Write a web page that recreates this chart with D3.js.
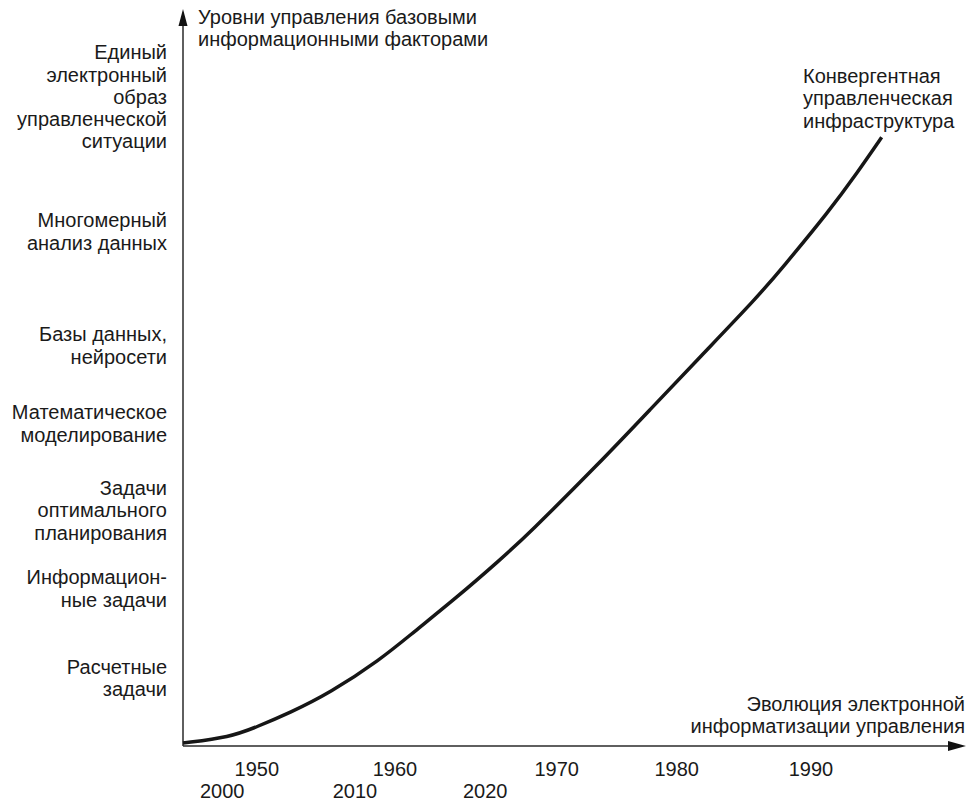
<!DOCTYPE html>
<html>
<head>
<meta charset="utf-8">
<script src="https://cdn.jsdelivr.net/npm/d3@7"></script>
<style>
  body { margin: 0; background: #fff; }
  text { font-family: "Liberation Sans", Arial, sans-serif; fill: #1a1a1a; }
</style>
</head>
<body>
<div id="chart"></div>
<script>
const svgWidth = 980;
const svgHeight = 801;

// curve of evolution (abstract 0..100 units on both axes)
const curveX = [0, 6.0, 9.4, 13.6, 18.7, 25.1, 29.3, 34.9, 40.4, 43.9, 53.1, 59.5, 65.9, 73.1, 76.3, 82.4, 85.9, 89.0];
const curveY = [0.4, 1.2, 2.6, 4.5, 7.2, 11.7, 15.4, 20.2, 25.3, 28.7, 38.5, 45.7, 52.9, 60.9, 64.9, 72.8, 77.9, 82.7];

// year labels along the axis (two rows)
const yearsTop = ["1950", "1960", "1970", "1980", "1990"];
const yearsTopPos = [9.4, 27.0, 47.6, 62.9, 80.0];
const yearsBottom = ["2000", "2010", "2020"];
const yearsBottomPos = [5.0, 21.9, 38.5];

// levels on the vertical axis
const levels = [
  ["Расчетные", "задачи"],
  ["Информацион-", "ные задачи"],
  ["Задачи", "оптимального", "планирования"],
  ["Математическое", "моделирование"],
  ["Базы данных,", "нейросети"],
  ["Многомерный", "анализ данных"],
  ["Единый", "электронный", "образ", "управленческой", "ситуации"]
];
const levelPos = [9.2, 21.4, 32.0, 43.8, 54.4, 69.9, 88.2];

const yTitle = ["Уровни управления базовыми", "информационными факторами"];
const xTitle = ["Эволюция электронной", "информатизации управления"];
const endLabel = ["Конвергентная", "управленческая", "инфраструктура"];

const svg = d3.select("#chart")
  .append("svg")
  .attr("width", svgWidth)
  .attr("height", svgHeight);

const x = d3.scaleLinear().domain([0, 100]).range([183, 968]);
const y = d3.scaleLinear().domain([0, 100]).range([746, 10]);

const fs = 20;
const lh = 22.3;

// axes with arrows
const axisColor = "#2a2a2a";
svg.append("line")
  .attr("x1", x(0)).attr("y1", y(0))
  .attr("x2", x(0)).attr("y2", y(100) + 10)
  .attr("stroke", axisColor).attr("stroke-width", 1.5);
svg.append("path")
  .attr("d", `M${x(0)},${y(100) - 1} L${x(0) - 4.5},${y(100) + 16} L${x(0) + 4.5},${y(100) + 16} Z`)
  .attr("fill", "#111");

svg.append("line")
  .attr("x1", x(0)).attr("y1", y(0))
  .attr("x2", x(100) - 12).attr("y2", y(0))
  .attr("stroke", axisColor).attr("stroke-width", 1.5);
svg.append("path")
  .attr("d", `M${x(100) - 2},${y(0)} L${x(100) - 20},${y(0) - 5} L${x(100) - 20},${y(0) + 5} Z`)
  .attr("fill", "#111");

// curve
const data = curveX.map((d, i) => ({x: d, y: curveY[i]}));
const line = d3.line()
  .x(d => x(d.x))
  .y(d => y(d.y))
  .curve(d3.curveBasis);

svg.append("path")
  .datum(data)
  .attr("d", line)
  .attr("fill", "none")
  .attr("stroke", "#161616")
  .attr("stroke-width", 3.5)
  .attr("stroke-linecap", "butt");

// left level labels
const lvl = svg.append("g").attr("text-anchor", "end").attr("font-size", fs);
levels.forEach((lines, i) => {
  const c = y(levelPos[i]);
  const first = c - (lines.length - 1) * lh / 2 + 7;
  const t = lvl.append("text");
  lines.forEach((s, j) => {
    t.append("tspan").attr("x", 167).attr("y", first + j * lh).text(s);
  });
});

// year labels
svg.append("g").attr("text-anchor", "middle").attr("font-size", fs)
  .selectAll("text").data(yearsTop).enter().append("text")
  .attr("x", (d, i) => x(yearsTopPos[i]))
  .attr("y", 776)
  .text(d => d);
svg.append("g").attr("text-anchor", "middle").attr("font-size", fs)
  .selectAll("text").data(yearsBottom).enter().append("text")
  .attr("x", (d, i) => x(yearsBottomPos[i]))
  .attr("y", 798)
  .text(d => d);

// axis titles
const yt = svg.append("text").attr("font-size", fs);
yTitle.forEach((s, j) => yt.append("tspan").attr("x", 198).attr("y", 24 + j * lh).text(s));

const xt = svg.append("text").attr("font-size", fs).attr("text-anchor", "end");
xTitle.forEach((s, j) => xt.append("tspan").attr("x", 965).attr("y", 711 + j * lh).text(s));

// label at the end of the curve
const el = svg.append("text").attr("font-size", fs);
endLabel.forEach((s, j) => el.append("tspan").attr("x", 803).attr("y", 83 + j * lh).text(s));
</script>
</body>
</html>
